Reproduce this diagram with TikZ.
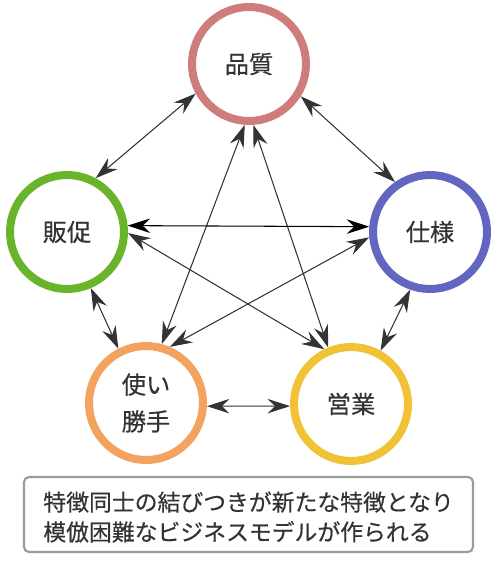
\documentclass[tikz,border=0pt]{standalone}
\usepackage{fontspec}
\setmainfont{Noto Sans CJK JP}[FakeBold=0.4]
\usetikzlibrary{arrows.meta}
\definecolor{hinshitsu}{HTML}{CE7C7C}
\definecolor{hansoku}{HTML}{6AB42C}
\definecolor{shiyou}{HTML}{6366C1}
\definecolor{tsukai}{HTML}{F3A260}
\definecolor{eigyou}{HTML}{F1C236}
\definecolor{moji}{HTML}{333333}
\definecolor{waku}{HTML}{9A9A9A}

\begin{document}
\begin{tikzpicture}[x=0.02cm, y=-0.02cm,
    >={Stealth[length=0.45cm, width=0.29cm, inset=0.15cm]},
    feature/.style={circle, draw=#1, line width=0.16cm, minimum size=2.28cm,
        inner sep=0pt, text=moji, align=center, font=\fontsize{13.8}{21}\selectfont},
    link/.style={<->, line width=0.6pt, draw=moji}]
    \useasboundingbox (0,0) rectangle (500,563);

    % Năm đặc trưng
    \node[feature=hinshitsu] (Q) at (249,64) {品質};
    \node[feature=hansoku] (P) at (67,232) {販促};
    \node[feature=shiyou] (S) at (430,232) {仕様};
    \node[feature=tsukai] (U) at (146,403) {使い\\勝手};
    \node[feature=eigyou] (E) at (351,404) {営業};

    % Các mũi tên hai chiều
    \draw[link] (P.62) -- (Q.209);
    \draw[link] (Q.-32) -- (S.125);
    \draw[link] (Q.266) -- (U.75);
    \draw[link] (Q.274) -- (E.112);
    \draw[link, draw=black] (P.6) -- (S.175);
    \draw[link] (P.-1) -- (E.116);
    \draw[link] (S.185) -- (U.67);
    \draw[link] (S.251) -- (E.61);
    \draw[link] (P.-67) -- (U.117);
    \draw[link] (U.-3) -- (E.182);

    % Khung ghi chú
    \draw[waku, line width=1.2pt, rounded corners=0.1cm] (24,477) rectangle (473,552);
    \node[anchor=west, align=left, inner sep=0pt, text=moji,
        font=\fontsize{13}{17}\selectfont] (note) at (43,517)
        {特徴同士の結びつきが新たな特徴となり\\模倣困難なビジネスモデルが作られる};
\end{tikzpicture}
\end{document}
